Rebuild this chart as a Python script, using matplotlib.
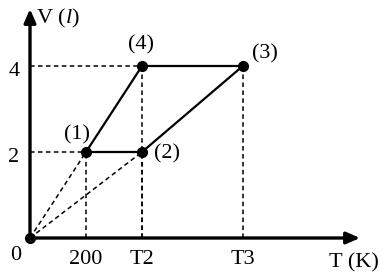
import matplotlib
matplotlib.use("Agg")
import matplotlib.pyplot as plt

# state points (T in K, V in litres)
labels = ["(1)", "(2)", "(3)", "(4)"]
T = [200, 400, 760, 400]
V = [2, 2, 4, 4]
tick_T = [200, 400, 760]
tick_T_labels = ["200", "T2", "T3"]
tick_V = [2, 4]

plt.rcParams['font.family'] = ['Liberation Serif', 'DejaVu Serif']
plt.rcParams['mathtext.fontset'] = 'custom'
plt.rcParams['mathtext.rm'] = 'Liberation Serif'
plt.rcParams['mathtext.it'] = 'Liberation Serif:italic'

fig = plt.figure(figsize=(3.85, 2.8), dpi=100)
ax = fig.add_axes([0, 0, 1, 1])
# pixel mapping: x = 30 + 0.28*T, y = 238 - 43*V
ax.set_xlim(-30 / 0.28, 355 / 0.28)
ax.set_ylim(-42 / 43, 238 / 43)
ax.axis('off')

dash = dict(color='black', lw=1.1, ls=(0, (3, 2.2)))
solid = dict(color='black', lw=1.6)

# guide lines
for t, v in zip(T, V):
    ax.plot([t, t], [0, v], **dash)
for v in tick_V:
    ax.plot([0, min(t for t, vv in zip(T, V) if vv == v)], [v, v], **dash)
# rays from origin
ax.plot([0, T[0]], [0, V[0]], **dash)
ax.plot([0, T[1]], [0, V[1]], **dash)

# cycle 1-2-3-4
ax.plot([T[0], T[1]], [V[0], V[1]], **solid)
ax.plot([T[1], T[2]], [V[1], V[2]], **solid)
ax.plot([T[2], T[3]], [V[2], V[3]], **solid)
ax.plot([T[3], T[0]], [V[3], V[0]], **solid)

# axes with arrows
ax.annotate('', xy=(330 / 0.28, 0), xytext=(0, 0),
            arrowprops=dict(arrowstyle='-|>,head_length=0.8,head_width=0.35',
                            color='black', lw=2.4, shrinkA=0, shrinkB=0))
ax.annotate('', xy=(0, 229 / 43), xytext=(0, 0),
            arrowprops=dict(arrowstyle='-|>,head_length=0.8,head_width=0.35',
                            color='black', lw=2.4, shrinkA=0, shrinkB=0))

ax.plot(T, V, 'o', color='black', ms=7, zorder=5)
ax.plot([0], [0], 'o', color='black', ms=7, zorder=5)

fs = 16
offsets = [(-9 / 0.28, 17 / 43), (25 / 0.28, -2 / 43), (22 / 0.28, 12 / 43), (-1 / 0.28, 21 / 43)]
for lab, t, v, (dx, dy) in zip(labels, T, V, offsets):
    ax.text(t + dx, v + dy, lab, fontsize=fs, ha='center', va='center')

for t, lab in zip(tick_T, tick_T_labels):
    ax.text(t, -22 / 43, lab, fontsize=fs, ha='center', va='center')
for v in tick_V:
    ax.text(-16 / 0.28, v - 6 / 43, str(v), fontsize=fs, ha='center', va='center')
ax.text(-14 / 0.28, -18 / 43, "0", fontsize=fs, ha='center', va='center')

ax.text(28 / 0.28, 220 / 43, r"V ($\mathit{l}$)", fontsize=fs, ha='center', va='center')
ax.text(324 / 0.28, -25 / 43, "T (K)", fontsize=fs, ha='center', va='center')

fig.savefig("out.png", dpi=100)
